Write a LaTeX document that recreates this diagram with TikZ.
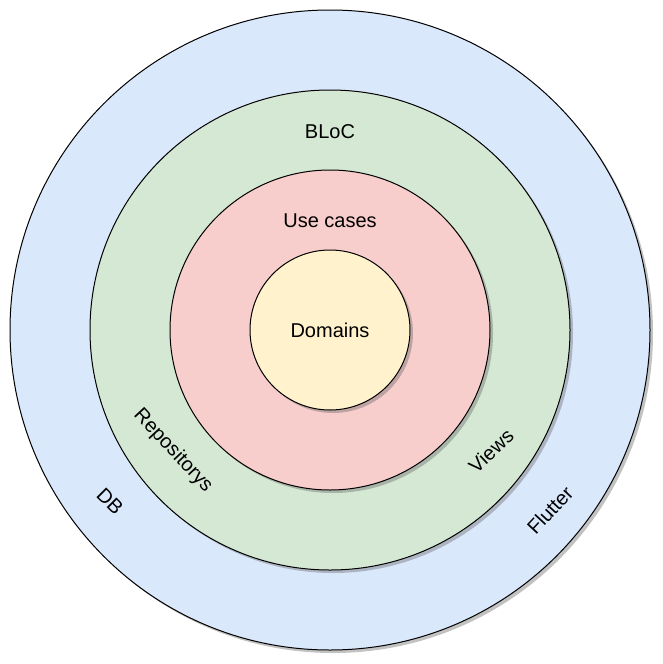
\documentclass[tikz,border=0pt]{standalone}
\usepackage{fontspec}
\setmainfont{Liberation Sans}
\usepackage{tikz}
\usetikzlibrary{shadows}

\definecolor{flutterblue}{HTML}{DAE8FC}
\definecolor{blocgreen}{HTML}{D5E8D4}
\definecolor{casered}{HTML}{F8CECC}
\definecolor{domainyellow}{HTML}{FFF2CC}

\tikzset{
    ring/.style={draw,
        circle,
        inner sep=0pt,
        line width=0.75pt,
        drop shadow={shadow xshift=2.25pt, shadow yshift=-2.25pt,
            fill=black!60, opacity=0.4}
    },
    ringtext/.style={inner sep=0pt, font=\fontsize{15}{18}\selectfont}
}

\begin{document}
\begin{tikzpicture}[x=0.75pt, y=-0.75pt]

    \useasboundingbox (0,0) rectangle (663,664);

    % Rings
    \node[ring, fill=flutterblue, minimum size=480pt] (outer) at (330,330){};
    \node[ring, fill=blocgreen, minimum size=360pt] (bloc) at (330,330){};
    \node[ring, fill=casered, minimum size=240pt] (usecases) at (330,330){};
    \node[ring, fill=domainyellow, minimum size=120pt] (domains) at (330,330){};

    % Ring labels
    \node[ringtext] (domainstext) at (domains.center) {Domains};
    \node[ringtext] (usecasestext) at (330,221) {Use cases};
    \node[ringtext] (bloctext) at (330,132) {BLoC};
    \node[ringtext, rotate=-47] (repostext) at (173,451) {Repositorys};
    \node[ringtext, rotate=43] (viewstext) at (491,451) {Views};
    \node[ringtext, rotate=-45] (dbtext) at (110,501) {DB};
    \node[ringtext, rotate=47] (fluttertext) at (550,510) {Flutter};

\end{tikzpicture}
\end{document}
